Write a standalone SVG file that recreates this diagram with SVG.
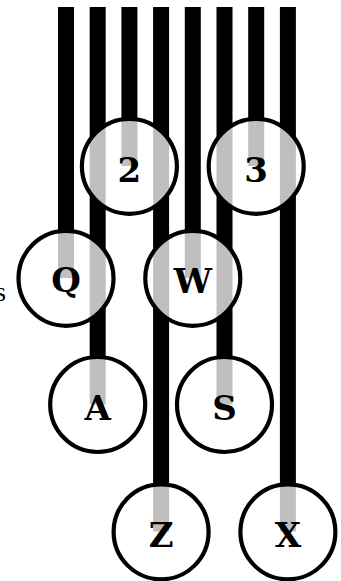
<svg xmlns="http://www.w3.org/2000/svg" width="341" height="581" viewBox="0 0 341 581">
<style>
.bar{stroke:#000;stroke-width:16;fill:none}
.node circle{fill:#fff;fill-opacity:0.75;stroke:#000;stroke-width:4.2}
.node text{font-family:"DejaVu Serif","Liberation Serif",serif;font-weight:bold;font-size:34px;text-anchor:middle;fill:#000}
.side{font-family:"Liberation Serif","DejaVu Serif",serif;font-size:27px;text-anchor:end;fill:#000}
</style>
<rect width="341" height="581" fill="#fff"/>
<g id="connectors">
<line class="bar" x1="66" y1="7" x2="66" y2="278"/>
<line class="bar" x1="97.7" y1="7" x2="97.7" y2="404.5"/>
<line class="bar" x1="129.4" y1="7" x2="129.4" y2="166"/>
<line class="bar" x1="161.1" y1="7" x2="161.1" y2="531.5"/>
<line class="bar" x1="192.8" y1="7" x2="192.8" y2="278"/>
<line class="bar" x1="224.5" y1="7" x2="224.5" y2="404.5"/>
<line class="bar" x1="256.2" y1="7" x2="256.2" y2="166"/>
<line class="bar" x1="287.9" y1="7" x2="287.9" y2="531.5"/>
</g>
<g id="node-2" class="node"><circle cx="129.4" cy="166.3" r="47.5"/><text x="129.4" y="181.5">2</text></g>
<g id="node-3" class="node"><circle cx="256.2" cy="166.3" r="47.5"/><text x="256.2" y="181.5">3</text></g>
<g id="node-Q" class="node"><circle cx="66" cy="278.3" r="47.5"/><text x="66" y="292">Q</text></g>
<g id="node-W" class="node"><circle cx="192.8" cy="278.3" r="47.5"/><text x="192.8" y="293">W</text></g>
<g id="node-A" class="node"><circle cx="97.7" cy="404.5" r="47.5"/><text x="97.7" y="419.5">A</text></g>
<g id="node-S" class="node"><circle cx="224.5" cy="404.5" r="47.5"/><text x="224.5" y="419.5">S</text></g>
<g id="node-Z" class="node"><circle cx="161.1" cy="531.8" r="47.5"/><text x="161.1" y="546.5">Z</text></g>
<g id="node-X" class="node"><circle cx="287.9" cy="531.8" r="47.5"/><text x="287.9" y="546.5">X</text></g>
<text class="side" x="6" y="301">s</text>
</svg>
